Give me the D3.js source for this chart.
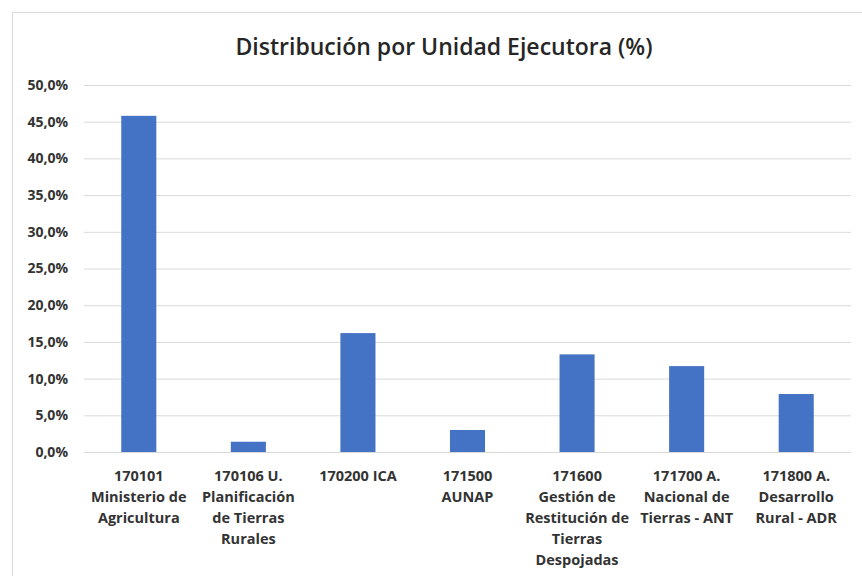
<!DOCTYPE html>
<html>
<head>
<meta charset="utf-8">
<script src="https://cdn.jsdelivr.net/npm/d3@7"></script>
<style>
  body { margin: 0; background: #fff; }
  text { font-family: "Open Sans", sans-serif; }
</style>
</head>
<body>
<div id="chart"></div>
<script>
// data
let unidades = [
  "170101 Ministerio de Agricultura",
  "170106 U. Planificación de Tierras Rurales",
  "170200 ICA",
  "171500 AUNAP",
  "171600 Gestión de Restitución de Tierras Despojadas",
  "171700 A. Nacional de Tierras - ANT",
  "171800 A. Desarrollo Rural - ADR"
];
let etiquetas = [
  ["170101", "Ministerio de", "Agricultura"],
  ["170106 U.", "Planificación", "de Tierras", "Rurales"],
  ["170200 ICA"],
  ["171500", "AUNAP"],
  ["171600", "Gestión de", "Restitución de", "Tierras", "Despojadas"],
  ["171700 A.", "Nacional de", "Tierras - ANT"],
  ["171800 A.", "Desarrollo", "Rural - ADR"]
];
let porcentajes = [0.458, 0.014, 0.162, 0.030, 0.133, 0.117, 0.079];
let y_ticks = [0, 0.05, 0.1, 0.15, 0.2, 0.25, 0.3, 0.35, 0.4, 0.45, 0.5];

let width = 862;
let height = 576;
let margin = { top: 85, right: 11, bottom: 124, left: 84 };

let locale = d3.formatLocale({ decimal: ",", thousands: ".", grouping: [3], currency: ["$", ""] });
let pct_format = locale.format(".1%");

let x = d3.scaleBand()
  .domain(unidades)
  .range([margin.left, width - margin.right])
  .paddingInner(0.68)
  .paddingOuter(0.34);

let y = d3.scaleLinear()
  .domain([0, 0.5])
  .range([height - margin.bottom, margin.top]);

let svg = d3.select("#chart")
  .append("svg")
  .attr("width", width)
  .attr("height", height);

// chart area border
svg.append("rect")
  .attr("x", 12.5)
  .attr("y", 12.5)
  .attr("width", width)
  .attr("height", height)
  .attr("fill", "none")
  .attr("stroke", "#d9d9d9");

svg.append("text")
  .attr("x", 444)
  .attr("y", 55)
  .attr("text-anchor", "middle")
  .attr("font-size", 23)
  .attr("font-weight", 600)
  .attr("fill", "#262626")
  .text("Distribución por Unidad Ejecutora (%)");

// y axis with gridlines
svg.append("g")
  .attr("transform", `translate(${margin.left},0)`)
  .call(d3.axisLeft(y)
    .tickValues(y_ticks)
    .tickFormat(pct_format)
    .tickSize(-(width - margin.left - margin.right))
    .tickPadding(16))
  .call(g => g.select(".domain").remove())
  .call(g => g.selectAll(".tick line").attr("stroke", "#d9d9d9"))
  .call(g => g.selectAll(".tick text")
    .attr("font-family", "Open Sans, sans-serif")
    .attr("font-size", 14)
    .attr("font-weight", 700)
    .attr("fill", "#333"));

svg.append("g")
  .selectAll("rect")
  .data(porcentajes)
  .enter()
  .append("rect")
  .attr("x", (d, i) => x(unidades[i]))
  .attr("y", d => y(d))
  .attr("width", x.bandwidth())
  .attr("height", d => y(0) - y(d))
  .attr("fill", "#4472C4");

// x axis, labels wrapped like the original
let x_axis = svg.append("g")
  .attr("transform", `translate(0,${y(0)})`)
  .call(d3.axisBottom(x).tickSize(0).tickFormat(""));
x_axis.select(".domain").attr("stroke", "#d9d9d9");

x_axis.selectAll(".tick")
  .each(function (d, i) {
    let t = d3.select(this).append("text")
      .attr("text-anchor", "middle")
      .attr("font-size", 14.5)
      .attr("font-weight", 700)
      .attr("fill", "#333");
    etiquetas[i].forEach((line, j) => {
      t.append("tspan")
        .attr("x", 0)
        .attr("y", 29 + j * 21)
        .text(line);
    });
  });
</script>
</body>
</html>
